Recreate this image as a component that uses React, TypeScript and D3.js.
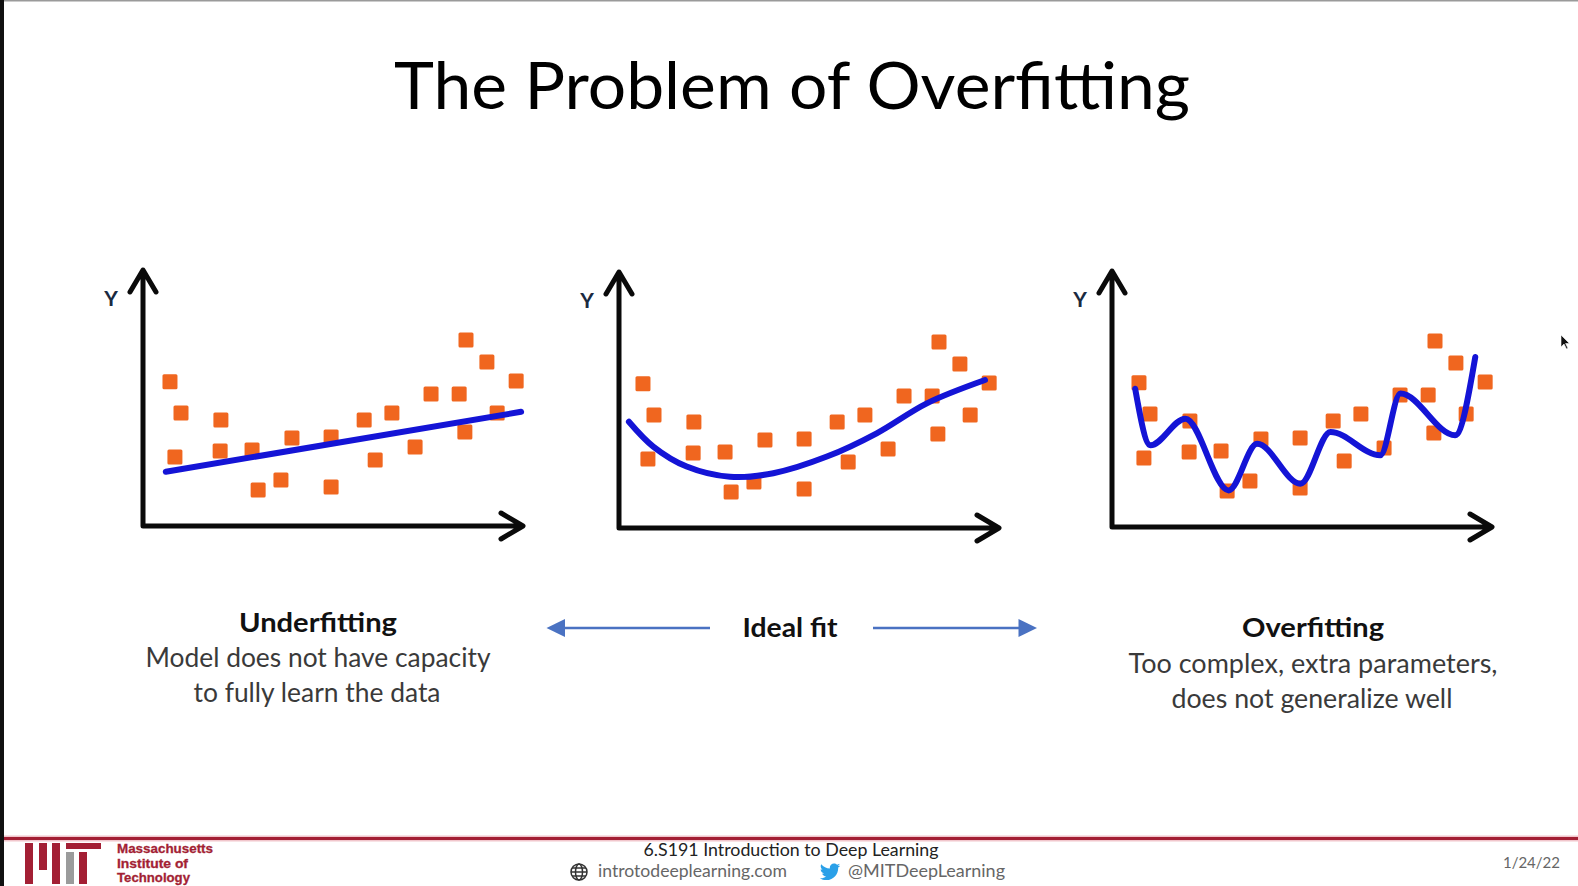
import { useEffect, useRef } from "react";
import * as d3 from "d3";

const WIDTH = 1578;
const HEIGHT = 886;

// Shared scatter sample (x, y on a 0-100 grid)
const pointX = [7.1, 10, 8.4, 20.5, 20.3, 28.7, 30.3, 36.3, 39.2, 49.5, 49.5, 58.2, 61.1, 65.5, 71.6, 75.8, 83.2, 84.7, 85, 90.5, 93.2, 98.2];
const pointY = [56.3, 44.1, 27, 41.4, 29.3, 29.7, 14.1, 18, 34.4, 34.8, 15.2, 41.4, 25.8, 44.1, 30.9, 51.6, 51.6, 36.7, 72.7, 64.1, 44.1, 56.6];

// Fitted models
const underfitX = [6, 99.5];
const underfitY = [21.2, 44.6];

const idealX = [3.4, 9.8, 18.6, 30, 41.4, 55.5, 68.6, 81.8, 97.1];
const idealY = [41.5, 31.8, 24, 20, 21.4, 27.9, 37, 48.7, 57.8];

const overfitX = [6.1, 10.1, 19.3, 30.7, 38.2, 49.6, 57.5, 70.6, 75.9, 90.3, 95.6];
const overfitY = [54, 31.9, 42.3, 14.3, 32.5, 16.9, 37.1, 28, 52.1, 35.8, 66.4];

const titleText = "The Problem of Overfitting";
const captionTitles = ["Underfitting", "Ideal fit", "Overfitting"];
const underfitLines = ["Model does not have capacity", "to fully learn the data"];
const overfitLines = ["Too complex, extra parameters,", "does not generalize well"];

const mitLines = ["Massachusetts", "Institute of", "Technology"];
const footerCourse = "6.S191 Introduction to Deep Learning";
const footerSite = "introtodeeplearning.com";
const footerHandle = "@MITDeepLearning";
const footerDate = "1/24/22";

const FONT = "Lato, 'Open Sans', 'Noto Sans', sans-serif";
const ORANGE = "#f0661f";
const BLUE = "#1414d6";
const ARROW_BLUE = "#4a72c2";
const MIT_RED = "#a31f34";

const TWITTER_PATH =
  "M23.643 4.937c-.835.37-1.732.62-2.675.733.962-.576 1.7-1.49 2.048-2.578-.9.534-1.897.922-2.958 1.13-.85-.904-2.06-1.47-3.4-1.47-2.572 0-4.658 2.086-4.658 4.66 0 .364.042.718.12 1.06-3.873-.195-7.304-2.05-9.602-4.868-.4.69-.63 1.49-.63 2.342 0 1.616.823 3.043 2.072 3.878-.764-.025-1.482-.234-2.11-.583v.06c0 2.257 1.605 4.14 3.737 4.568-.392.106-.803.162-1.227.162-.3 0-.593-.028-.877-.082.593 1.85 2.313 3.198 4.352 3.234-1.595 1.25-3.604 1.995-5.786 1.995-.376 0-.747-.022-1.112-.065 2.062 1.323 4.51 2.093 7.14 2.093 8.57 0 13.255-7.098 13.255-13.254 0-.2-.005-.402-.014-.602.91-.658 1.7-1.477 2.323-2.41z";

export default function App() {
  const svgRef = useRef<SVGSVGElement>(null);

  useEffect(() => {
    if (!svgRef.current) return;
    const svg = d3.select(svgRef.current);
    svg.selectAll("*").remove();

    // Background and slide edges
    svg.append("rect").attr("width", WIDTH).attr("height", HEIGHT).attr("fill", "#fff");
    svg.append("rect").attr("x", 0).attr("y", 0).attr("width", 4).attr("height", HEIGHT).attr("fill", "#111");
    svg.append("rect").attr("x", 4).attr("y", 0).attr("width", WIDTH - 4).attr("height", 1.5).attr("fill", "#9a9a9a");

    // Title
    svg.append("text")
      .attr("x", 792)
      .attr("y", 109)
      .attr("text-anchor", "middle")
      .attr("font-family", FONT)
      .attr("font-size", 66)
      .attr("fill", "#000")
      .attr("textLength", 796)
      .attr("lengthAdjust", "spacingAndGlyphs")
      .text(titleText);

    const points = pointX.map((x, i) => ({ x, y: pointY[i] }));

    const panels = [
      { ox: 143, oy: 526, dx: 0, fx: underfitX, fy: underfitY, curve: d3.curveLinear },
      { ox: 619, oy: 528, dx: -3, fx: idealX, fy: idealY, curve: d3.curveCatmullRom },
      { ox: 1112, oy: 527, dx: 0, fx: overfitX, fy: overfitY, curve: d3.curveMonotoneX },
    ];
    const axisW = 380;
    const axisH = 256;

    panels.forEach(p => {
      const x = d3.scaleLinear().domain([0, 100]).range([p.ox + p.dx, p.ox + p.dx + axisW]);
      const y = d3.scaleLinear().domain([0, 100]).range([p.oy, p.oy - axisH]);
      const g = svg.append("g");

      // Axes with open arrowheads
      const top = p.oy - axisH;
      const right = p.ox + axisW;
      const axisPath = d3.path();
      axisPath.moveTo(p.ox, top + 2);
      axisPath.lineTo(p.ox, p.oy);
      axisPath.lineTo(right - 2, p.oy);
      axisPath.moveTo(p.ox - 13, top + 22);
      axisPath.lineTo(p.ox, top);
      axisPath.lineTo(p.ox + 13, top + 22);
      axisPath.moveTo(right - 22, p.oy - 13);
      axisPath.lineTo(right, p.oy);
      axisPath.lineTo(right - 22, p.oy + 13);
      g.append("path")
        .attr("d", axisPath.toString())
        .attr("fill", "none")
        .attr("stroke", "#0a0a0a")
        .attr("stroke-width", 5)
        .attr("stroke-linejoin", "round")
        .attr("stroke-linecap", "round");

      g.append("text")
        .attr("x", p.ox - 32)
        .attr("y", p.oy - 229)
        .attr("text-anchor", "middle")
        .attr("dominant-baseline", "central")
        .attr("font-family", FONT)
        .attr("font-weight", "bold")
        .attr("font-size", 21)
        .attr("fill", "#1a2a40")
        .text("Y");

      // Scatter squares
      const s = 15;
      g.selectAll("rect.pt")
        .data(points)
        .enter()
        .append("rect")
        .attr("class", "pt")
        .attr("x", d => x(d.x) - s / 2)
        .attr("y", d => y(d.y) - s / 2)
        .attr("width", s)
        .attr("height", s)
        .attr("rx", 1.5)
        .attr("fill", ORANGE);

      // Fitted model
      const fit = p.fx.map((v, i) => [v, p.fy[i]] as [number, number]);
      const line = d3.line<[number, number]>()
        .x(d => x(d[0]))
        .y(d => y(d[1]))
        .curve(p.curve);
      g.append("path")
        .datum(fit)
        .attr("d", line)
        .attr("fill", "none")
        .attr("stroke", BLUE)
        .attr("stroke-width", 6)
        .attr("stroke-linecap", "round")
        .attr("stroke-linejoin", "round");
    });

    // Captions
    const boldText = (t: string, cx: number, by: number, w: number) =>
      svg.append("text")
        .attr("x", cx)
        .attr("y", by)
        .attr("text-anchor", "middle")
        .attr("font-family", FONT)
        .attr("font-weight", "bold")
        .attr("font-size", 26)
        .attr("fill", "#111")
        .attr("textLength", w)
        .attr("lengthAdjust", "spacingAndGlyphs")
        .text(t);
    const plainText = (t: string, cx: number, by: number, w: number) =>
      svg.append("text")
        .attr("x", cx)
        .attr("y", by)
        .attr("text-anchor", "middle")
        .attr("font-family", FONT)
        .attr("font-size", 26)
        .attr("fill", "#3a3a3a")
        .attr("textLength", w)
        .attr("lengthAdjust", "spacingAndGlyphs")
        .text(t);

    boldText(captionTitles[0], 318, 632, 158);
    plainText(underfitLines[0], 318, 667, 345);
    plainText(underfitLines[1], 317, 702, 247);
    boldText(captionTitles[1], 790, 637, 95);
    boldText(captionTitles[2], 1313, 637, 142);
    plainText(overfitLines[0], 1313, 673, 369);
    plainText(overfitLines[1], 1312, 708, 281);

    // Blue "ideal fit" arrows
    const arrowY = 628;
    svg.append("line").attr("x1", 560).attr("x2", 710).attr("y1", arrowY).attr("y2", arrowY)
      .attr("stroke", ARROW_BLUE).attr("stroke-width", 2.6);
    svg.append("path").attr("d", `M546.5,${arrowY} L565,${arrowY - 9} L565,${arrowY + 9} Z`).attr("fill", ARROW_BLUE);
    svg.append("line").attr("x1", 873).attr("x2", 1022).attr("y1", arrowY).attr("y2", arrowY)
      .attr("stroke", ARROW_BLUE).attr("stroke-width", 2.6);
    svg.append("path").attr("d", `M1037,${arrowY} L1018.5,${arrowY - 9} L1018.5,${arrowY + 9} Z`).attr("fill", ARROW_BLUE);

    // Footer rule
    svg.append("rect").attr("x", 4).attr("y", 835.5).attr("width", WIDTH - 4).attr("height", 6).attr("fill", "#f1c6cc");
    svg.append("rect").attr("x", 4).attr("y", 837).attr("width", WIDTH - 4).attr("height", 3).attr("fill", MIT_RED);

    // MIT logo bars
    const logo = svg.append("g");
    const bars = [
      { x: 25, y: 843, w: 8, h: 41, c: MIT_RED },
      { x: 39, y: 843, w: 8, h: 27, c: MIT_RED },
      { x: 52, y: 843, w: 8, h: 41, c: MIT_RED },
      { x: 66, y: 852, w: 8, h: 32, c: "#9b9b9b" },
      { x: 79, y: 852, w: 8, h: 32, c: MIT_RED },
      { x: 66, y: 843, w: 35, h: 6, c: MIT_RED },
    ];
    bars.forEach(b => logo.append("rect").attr("x", b.x).attr("y", b.y).attr("width", b.w).attr("height", b.h).attr("fill", b.c));
    const mitWidths = [96, 71, 73];
    mitLines.forEach((t, i) => {
      logo.append("text")
        .attr("x", 117)
        .attr("y", 853 + i * 14.5)
        .attr("font-family", "'Liberation Sans', Arial, sans-serif")
        .attr("font-weight", "bold")
        .attr("font-size", 13)
        .attr("fill", MIT_RED)
        .attr("stroke", MIT_RED)
        .attr("stroke-width", 0.3)
        .attr("textLength", mitWidths[i])
        .attr("lengthAdjust", "spacingAndGlyphs")
        .text(t);
    });

    // Course line
    svg.append("text")
      .attr("x", 791)
      .attr("y", 856)
      .attr("text-anchor", "middle")
      .attr("font-family", FONT)
      .attr("font-size", 17)
      .attr("fill", "#222")
      .attr("textLength", 295)
      .attr("lengthAdjust", "spacingAndGlyphs")
      .text(footerCourse);

    // Globe icon
    const globe = svg.append("g").attr("transform", "translate(579,872)").attr("fill", "none").attr("stroke", "#333").attr("stroke-width", 1.5);
    globe.append("circle").attr("r", 8);
    globe.append("ellipse").attr("rx", 3.5).attr("ry", 8);
    globe.append("line").attr("x1", -8).attr("x2", 8).attr("y1", 0).attr("y2", 0);
    globe.append("line").attr("x1", -7).attr("x2", 7).attr("y1", -4).attr("y2", -4);
    globe.append("line").attr("x1", -7).attr("x2", 7).attr("y1", 4).attr("y2", 4);

    svg.append("text")
      .attr("x", 598)
      .attr("y", 877)
      .attr("font-family", FONT)
      .attr("font-size", 17)
      .attr("fill", "#666")
      .attr("textLength", 189)
      .attr("lengthAdjust", "spacingAndGlyphs")
      .text(footerSite);

    svg.append("path")
      .attr("d", TWITTER_PATH)
      .attr("transform", "translate(819,861) scale(0.9)")
      .attr("fill", "#2aa0e8");

    svg.append("text")
      .attr("x", 848)
      .attr("y", 877)
      .attr("font-family", FONT)
      .attr("font-size", 17)
      .attr("fill", "#666")
      .attr("textLength", 157)
      .attr("lengthAdjust", "spacingAndGlyphs")
      .text(footerHandle);

    svg.append("text")
      .attr("x", 1560)
      .attr("y", 868)
      .attr("text-anchor", "end")
      .attr("font-family", FONT)
      .attr("font-size", 15)
      .attr("fill", "#666")
      .text(footerDate);

    // Mouse pointer left on the slide
    svg.append("path")
      .attr("d", "M1561,335 L1561,347 L1564,344 L1566.5,349 L1568,348.3 L1565.6,343.5 L1569.5,343.5 Z")
      .attr("fill", "#111")
      .attr("stroke", "#fff")
      .attr("stroke-width", 0.6);
  }, []);

  return (
    <svg
      ref={svgRef}
      width={WIDTH}
      height={HEIGHT}
      style={{ position: "absolute", left: 0, top: 0, display: "block" }}
    />
  );
}
